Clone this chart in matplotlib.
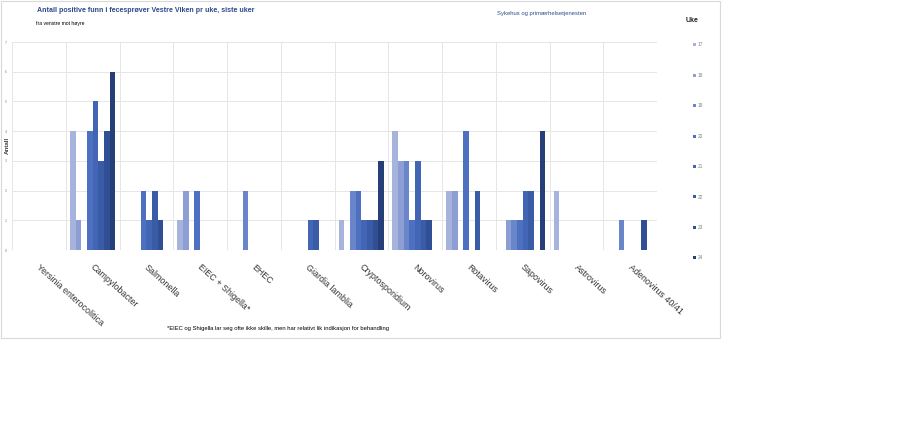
import numpy as np
from matplotlib import pyplot as plt
from matplotlib.patches import Rectangle

plt.rcParams['font.family'] = ['Liberation Sans', 'DejaVu Sans']

categories = ['Yersinia enterocolitica', 'Campylobacter', 'Salmonella', 'EIEC + Shigella*',
              'EHEC', 'Giardia lamblia', 'Cryptosporidium', 'Norovirus', 'Rotavirus',
              'Sapovirus', 'Astrovirus', 'Adenovirus 40/41']
weeks = ['17', '18', '19', '20', '21', '22', '23', '24']
# one list per week, columns = categories
uke17 = [0, 4, 0, 1, 0, 0, 1, 4, 2, 0, 2, 0]
uke18 = [0, 1, 0, 2, 0, 0, 0, 3, 2, 1, 0, 0]
uke19 = [0, 0, 0, 0, 2, 0, 2, 3, 0, 1, 0, 1]
uke20 = [0, 4, 2, 2, 0, 0, 2, 1, 4, 1, 0, 0]
uke21 = [0, 5, 1, 0, 0, 1, 1, 3, 0, 2, 0, 0]
uke22 = [0, 3, 2, 0, 0, 1, 1, 1, 2, 2, 0, 0]
uke23 = [0, 4, 1, 0, 0, 0, 1, 1, 0, 0, 0, 1]
uke24 = [0, 6, 0, 0, 0, 0, 3, 0, 0, 4, 0, 0]
series = [uke17, uke18, uke19, uke20, uke21, uke22, uke23, uke24]
colors = ['#a6b3dc', '#8c9ed4', '#6a86cb', '#4d70c0', '#4265b5', '#3a5ba6', '#304f94', '#263f78']

fig = plt.figure(figsize=(9, 4.23), dpi=100)
# outer chart frame
fig.patches.append(Rectangle((0.001, 1 - 338 / 423), 0.799, 338 / 423 - 0.002,
                             transform=fig.transFigure, fill=False, ec='#d9d9d9', lw=0.8))

ax = fig.add_axes([12 / 900, 1 - 250 / 423, 645 / 900, 208 / 423])

n = len(series)
gap = 1.5
w = 1.0 / (n + gap)
x = np.arange(len(categories))
for i, (vals, c) in enumerate(zip(series, colors)):
    ax.bar(x - 0.5 + gap * w / 2 + (i + 0.5) * w, vals, width=w, color=c, linewidth=0)

ax.set_xlim(-0.5, len(categories) - 0.5)
ax.set_ylim(0, 7)
ax.set_yticks(range(8))
ax.set_yticklabels([str(v) for v in range(8)], fontsize=2.5, color='#808080')
ax.tick_params(axis='y', length=0, pad=4)
for v in range(8):
    ax.axhline(v, color='#e6e6e6', lw=0.7, zorder=0)
for b in np.arange(-0.5, len(categories) + 0.5, 1):
    ax.axvline(b, color='#e6e6e6', lw=0.7, zorder=0)
for s in ax.spines.values():
    s.set_visible(False)

ax.set_xticks(x + 0.04)
ax.set_xticklabels(categories, rotation=-42, ha='left', va='top', rotation_mode='anchor',
                   fontsize=6.4, color='#333333')
ax.tick_params(axis='x', length=0, pad=9)

fig.text(7 / 900, 1 - 145 / 423, 'Antall', rotation=90, fontsize=4.5, fontweight='bold',
         ha='center', va='center', color='#404040')

fig.text(37 / 900, 1 - 11 / 423, 'Antall positive funn i fecesprøver Vestre Viken pr uke, siste uker',
         fontsize=5.1, fontweight='bold', color='#2f4a8c', va='center')
fig.text(36 / 900, 1 - 24 / 423, 'fra venstre mot høyre', fontsize=3.6, color='black', va='center')
fig.text(497 / 900, 1 - 13 / 423, 'Sykehus og primærhelsetjenesten', fontsize=4.2,
         color='#2f4a8c', va='center')
fig.text(686 / 900, 1 - 21 / 423, 'Uke', fontsize=5, fontweight='bold', color='#202020', va='center')

for i, (wk, c) in enumerate(zip(weeks, colors)):
    yy = 1 - (45 + i * 30.4) / 423
    fig.patches.append(Rectangle((693 / 900, yy - 1.5 / 423), 3 / 900, 3 / 423,
                                 transform=fig.transFigure, color=c, lw=0))
    fig.text(698 / 900, yy, wk, fontsize=3.4, color='#808080', va='center')

fig.text(167 / 900, 1 - 328 / 423,
         '*EIEC og Shigella lar seg ofte ikke skille, men har relativt lik indikasjon for behandling',
         fontsize=4.2, color='black', va='center')

fig.savefig('out.png', dpi=100)
